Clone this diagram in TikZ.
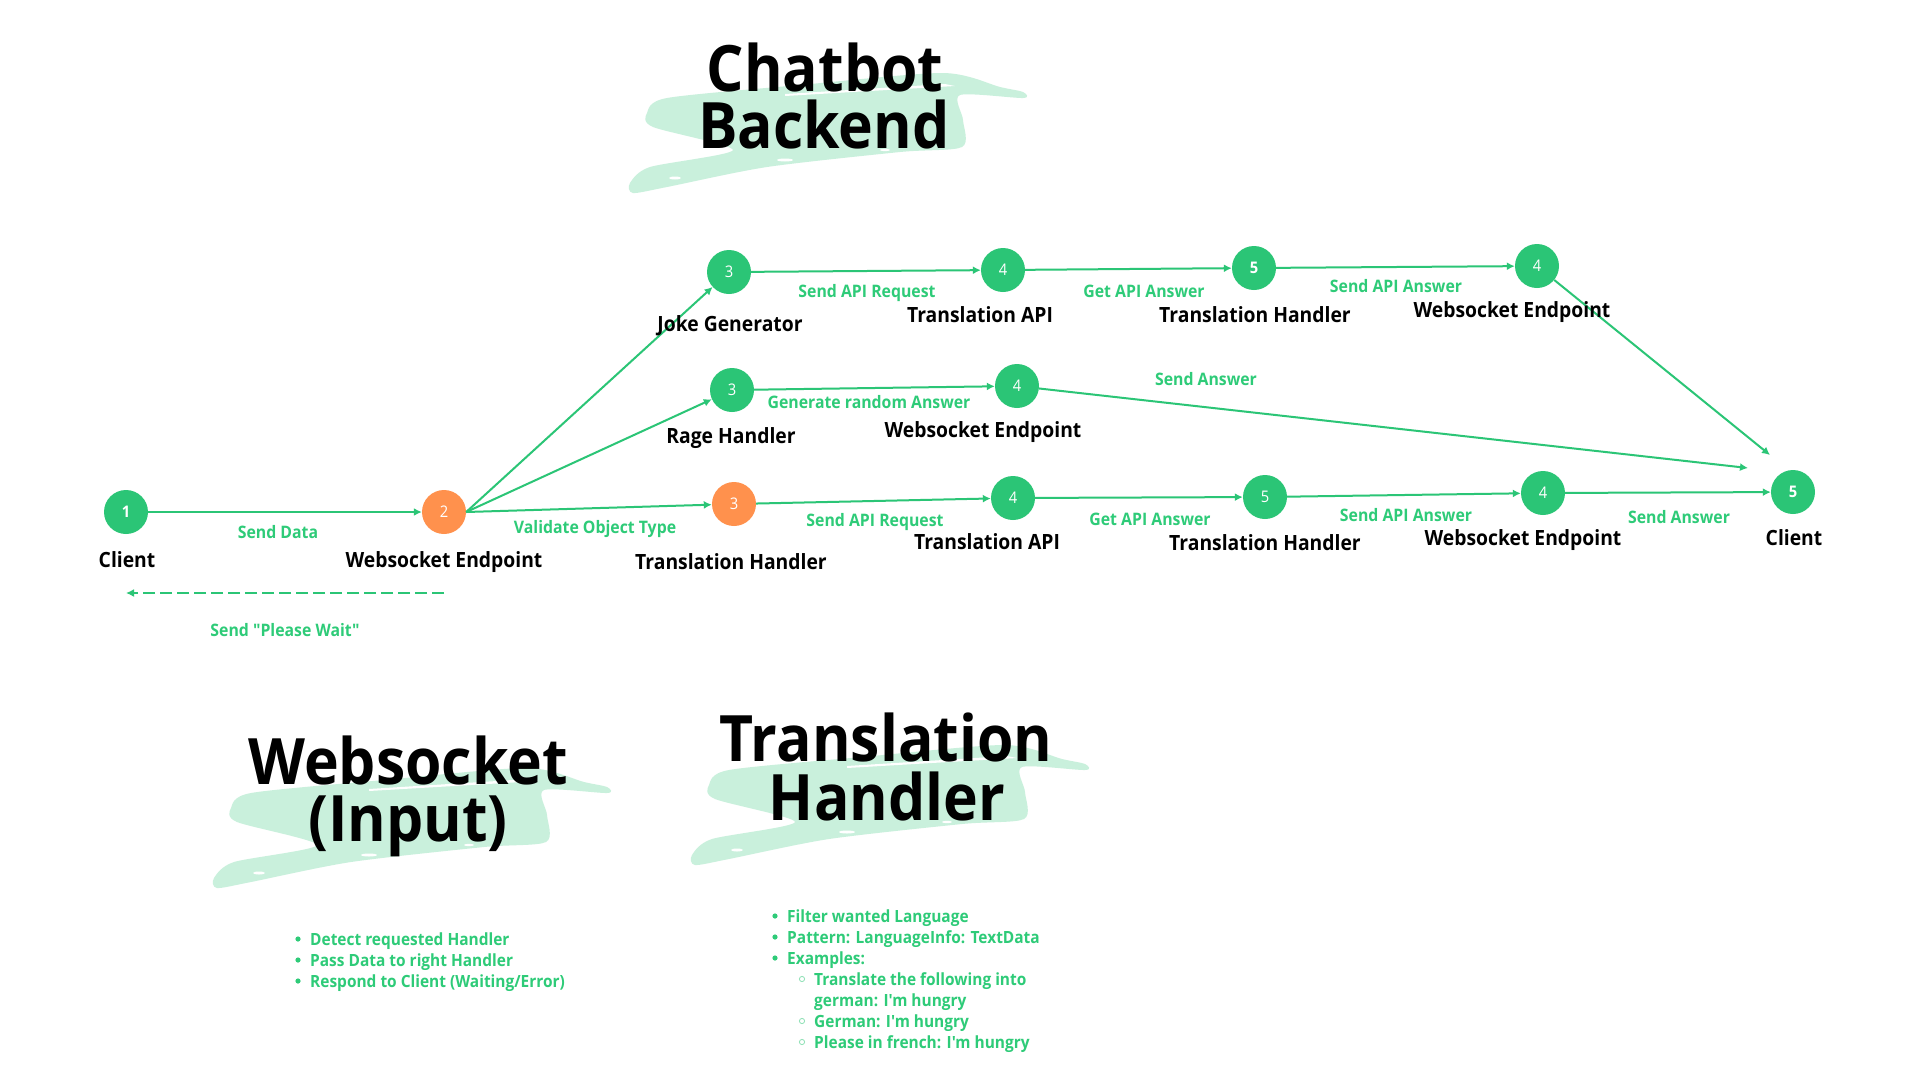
\documentclass[tikz,border=0pt]{standalone}
\usepackage{fontspec}
\IfFontExistsTF{Open Sans Bold}
  {\setmainfont{Open Sans}[FakeStretch=0.92, BoldFont={Open Sans Bold}, Ligatures=TeXOff]}
  {\setmainfont{Liberation Sans}[FakeStretch=0.95, Ligatures=TeXOff]}
\usetikzlibrary{arrows.meta,calc}
\definecolor{cgreen}{HTML}{2BC576}
\definecolor{corange}{HTML}{FF914D}
\definecolor{cmint}{HTML}{C9F0DC}
\definecolor{ctext}{HTML}{2ECB78}
\tikzset{
  brushpic/.pic={
    \fill[cmint] plot[smooth cycle, tension=0.45] coordinates {
      (-178,15) (-158,0) (-25,-13) (118,-25) (175,-11) (198,-6) (198,0) (135,-3)
      (138,22) (137,49) (75,54) (-58,69) (-158,89) (-192,95) (-195,85) (-175,69)
      (-92,52) (-172,29)};
    \fill[white] (-40,-4) -- (120,-14) -- (130,-12) -- (-40,-2) -- cycle;
    \fill[white] (-150,80) ellipse (6 and 1.5);
    \fill[white] (-40,62) ellipse (8 and 1.5);
    \fill[white] (60,52) ellipse (5 and 1.2);
  }
}
\begin{document}
\begin{tikzpicture}[x=1pt,y=-1pt,
  stepnode/.style={circle,fill=cgreen,minimum size=44pt,inner sep=0pt,text=white,font=\fontsize{16}{18}\selectfont},
  ostep/.style={stepnode,fill=corange},
  blbl/.style={anchor=base,font=\fontsize{21}{24}\selectfont\bfseries,text=black,inner sep=0pt},
  glbl/.style={anchor=base,font=\fontsize{17.2}{20}\selectfont\bfseries,text=ctext,inner sep=0pt},
  conn/.style={draw=cgreen,line width=2pt,-{Latex[length=8pt,width=8pt]}},
  ttl/.style={anchor=base,font=\fontsize{64}{70}\selectfont\bfseries,text=black,inner sep=0pt},
  litem/.style={anchor=base west,font=\fontsize{16.8}{20}\selectfont\bfseries,text=ctext,inner sep=0pt},
]
\fill[white] (0,0) rectangle (1920,1080);
\useasboundingbox (0,0) rectangle (1920,1080);

% titles with brush strokes
\pic at (825,98) {brushpic};
\pic at (409,793) {brushpic};
\pic at (887,770) {brushpic};
\node[ttl] (t1a) at (825,91) {Chatbot};
\node[ttl] (t1b) at (824,148) {Backend};
\node[ttl] (t2a) at (408,784) {Websocket};
\node[ttl] (t2b) at (408,841) {(Input)};
\node[ttl] (t3a) at (886,761) {Translation};
\node[ttl] (t3b) at (887,820) {Handler};

% step nodes
\node[stepnode] (n1) at (126,512) {\bfseries 1};
\node[ostep] (n2) at (444,512) {2};
\node[stepnode] (j3) at (729,272) {3};
\node[stepnode] (ta4) at (1003,270) {4};
\node[stepnode] (th5) at (1254,268) {\bfseries 5};
\node[stepnode] (we4) at (1537,266) {4};
\node[stepnode] (r3) at (732,390) {3};
\node[stepnode] (wm4) at (1017,386) {4};
\node[ostep] (o3) at (734,504) {3};
\node[stepnode] (tb4) at (1013,498) {4};
\node[stepnode] (hb5) at (1265,497) {5};
\node[stepnode] (wb4) at (1543,493) {4};
\node[stepnode] (c5) at (1793,492) {\bfseries 5};

\coordinate (cA) at (1748,468);
\coordinate (cB) at (1770,455);
\coordinate (dS) at ($(n2)+(0,81)$);
\coordinate (dE) at ($(n1)+(0,81)$);

% connectors
\draw[conn] (n1) -- (n2);
\draw[conn] (n2.east) -- (j3);
\draw[conn] (n2.east) -- (r3);
\draw[conn] (n2.east) -- (o3);
\draw[conn] (j3) -- (ta4);
\draw[conn] (ta4) -- (th5);
\draw[conn] (th5) -- (we4);
\draw[conn] (we4) -- (cB);
\draw[conn] (r3) -- (wm4);
\draw[conn] (wm4) -- (cA);
\draw[conn] (o3) -- (tb4);
\draw[conn] (tb4) -- (hb5);
\draw[conn] (hb5) -- (wb4);
\draw[conn] (wb4) -- (c5);
\draw[conn,dash pattern=on 12pt off 5pt] (dS) -- (dE);

% connector labels
\node[glbl] (l1) at (278,538) {Send Data};
\node[glbl] (l2) at (595,533) {Validate Object Type};
\node[glbl] (l3) at (867,297) {Send API Request};
\node[glbl] (l4) at (1144,297) {Get API Answer};
\node[glbl] (l5) at (1396,292) {Send API Answer};
\node[glbl] (l6) at (869,408) {Generate random Answer};
\node[glbl] (l7) at (1206,385) {Send Answer};
\node[glbl] (l8) at (875,526) {Send API Request};
\node[glbl] (l9) at (1150,525) {Get API Answer};
\node[glbl] (l10) at (1406,521) {Send API Answer};
\node[glbl] (l11) at (1679,523) {Send Answer};
\node[glbl] (l12) at (285,636) {Send "Please Wait"};

% node labels
\node[blbl] (b1) at (127,567) {Client};
\node[blbl] (b2) at (444,567) {Websocket Endpoint};
\node[blbl] (b3) at (730,331) {Joke Generator};
\node[blbl] (b4) at (980,322) {Translation API};
\node[blbl] (b5) at (1255,322) {Translation Handler};
\node[blbl] (b6) at (1512,317) {Websocket Endpoint};
\node[blbl] (b7) at (731,443) {Rage Handler};
\node[blbl] (b8) at (983,437) {Websocket Endpoint};
\node[blbl] (b9) at (731,569) {Translation Handler};
\node[blbl] (b10) at (987,549) {Translation API};
\node[blbl] (b11) at (1265,550) {Translation Handler};
\node[blbl] (b12) at (1523,545) {Websocket Endpoint};
\node[blbl] (b13) at (1794,545) {Client};

% Websocket list
\foreach \yy in {945,966,987} \fill[ctext] (298,\yy-6) circle (2.6);
\node[litem] (w1) at (310,945) {Detect requested Handler};
\node[litem] (w2) at (310,966) {Pass Data to right Handler};
\node[litem] (w3) at (310,987) {Respond to Client (Waiting/Error)};

% Translation list
\foreach \yy in {922,943,964} \fill[ctext] (775,\yy-6) circle (2.6);
\foreach \yy in {985,1027,1048} \draw[cmint!60!cgreen,line width=0.8pt] (802,\yy-6) circle (2.6);
\node[litem] (h1) at (787,922) {Filter wanted Language};
\node[litem] (h2) at (787,943) {Pattern: LanguageInfo: TextData};
\node[litem] (h3) at (787,964) {Examples:};
\node[litem] (h4) at (814,985) {Translate the following into};
\node[litem] (h5) at (814,1006) {german: I'm hungry};
\node[litem] (h6) at (814,1027) {German: I'm hungry};
\node[litem] (h7) at (814,1048) {Please in french: I'm hungry};
\end{tikzpicture}
\end{document}
